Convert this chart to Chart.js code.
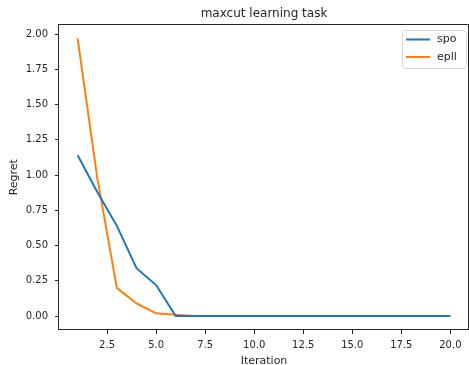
<!DOCTYPE html>
<html>
<head>
<meta charset="utf-8">
<script src="https://cdn.jsdelivr.net/npm/chart.js@4.4.0/dist/chart.umd.min.js"></script>
<style>
  html, body { margin: 0; padding: 0; background: #fff; }
  #wrap { width: 469px; height: 365px; }
</style>
</head>
<body>
<div id="wrap"><canvas id="myChart" width="469" height="365"></canvas></div>
<script>
// values
const iterations = [1, 2, 3, 4, 5, 6, 7, 8, 9, 10, 11, 12, 13, 14, 15, 16, 17, 18, 19, 20];
const spoRegret = [1.14, 0.88, 0.64, 0.34, 0.22, 0, 0, 0, 0, 0, 0, 0, 0, 0, 0, 0, 0, 0, 0, 0];
const epllRegret = [1.97, 0.98, 0.20, 0.09, 0.02, 0.01, 0, 0, 0, 0, 0, 0, 0, 0, 0, 0, 0, 0, 0, 0];
const xTicks = [2.5, 5.0, 7.5, 10.0, 12.5, 15.0, 17.5, 20.0];
const yTicks = [0, 0.25, 0.5, 0.75, 1.0, 1.25, 1.5, 1.75, 2.0];

const FONT = 'DejaVu Sans';
const INK = '#262626';

const toPoints = (xs, ys) => xs.map((x, i) => ({ x: x, y: ys[i] }));

// frame around the plot + matplotlib style legend in the upper right
const framePlugin = {
    id: 'frame',
    afterDraw(chart) {
        const ctx = chart.ctx;
        const a = chart.chartArea;
        ctx.save();
        ctx.strokeStyle = INK;
        ctx.lineWidth = 1;
        ctx.strokeRect(Math.round(a.left) - 0.5, Math.round(a.top) + 0.5,
            Math.round(a.right - a.left), Math.round(a.bottom - a.top) - 1);

        // legend box
        const bx = 402, by = 30, bw = 64, bh = 38;
        ctx.beginPath();
        ctx.roundRect(bx + 0.5, by + 0.5, bw, bh, 3);
        ctx.fillStyle = 'rgba(255,255,255,0.8)';
        ctx.fill();
        ctx.strokeStyle = '#d6d6d6';
        ctx.stroke();

        ctx.font = '11px ' + FONT;
        ctx.textBaseline = 'middle';
        chart.data.datasets.forEach((ds, i) => {
            const y = 39.5 + i * 17.5;
            ctx.beginPath();
            ctx.moveTo(406, y);
            ctx.lineTo(430, y);
            ctx.strokeStyle = ds.borderColor;
            ctx.lineWidth = 2;
            ctx.stroke();
            ctx.fillStyle = INK;
            ctx.fillText(ds.label, 437, y);
        });
        ctx.restore();
    }
};

new Chart(document.getElementById('myChart').getContext('2d'), {
    type: 'line',
    data: {
        datasets: [{
            label: 'spo',
            data: toPoints(iterations, spoRegret),
            borderColor: '#1f77b4',
            borderWidth: 2,
            pointRadius: 0,
            tension: 0
        },
        {
            label: 'epll',
            data: toPoints(iterations, epllRegret),
            borderColor: '#ff7f0e',
            borderWidth: 2,
            pointRadius: 0,
            tension: 0
        }]
    },
    options: {
        responsive: false,
        animation: false,
        layout: { padding: { left: 0, right: 0, top: 0, bottom: 0 } },
        plugins: {
            legend: { display: false },
            tooltip: { enabled: false },
            title: {
                display: true,
                text: 'maxcut learning task',
                fullSize: false,
                color: INK,
                font: { family: FONT, size: 12, weight: 'normal' },
                padding: { top: 7, bottom: 3 }
            }
        },
        scales: {
            x: {
                type: 'linear',
                min: 0.05,
                max: 20.95,
                afterBuildTicks: scale => { scale.ticks = xTicks.map(v => ({ value: v })); },
                afterFit: scale => { scale.height = 35; },
                ticks: {
                    color: INK,
                    font: { family: FONT, size: 10 },
                    padding: 5,
                    maxRotation: 0,
                    autoSkip: false,
                    callback: v => v.toFixed(1)
                },
                grid: { drawOnChartArea: false, drawTicks: true, tickLength: 4, color: INK },
                border: { display: false },
                title: {
                    display: true,
                    text: 'Iteration',
                    color: INK,
                    font: { family: FONT, size: 11 },
                    padding: { top: 0, bottom: -3 }
                }
            },
            y: {
                type: 'linear',
                min: -0.0985,
                max: 2.0685,
                afterBuildTicks: scale => { scale.ticks = yTicks.map(v => ({ value: v })); },
                afterFit: scale => { scale.width = 59; },
                ticks: {
                    color: INK,
                    font: { family: FONT, size: 10 },
                    padding: 7,
                    autoSkip: false,
                    callback: v => v.toFixed(2)
                },
                grid: { drawOnChartArea: false, drawTicks: true, tickLength: 4, color: INK },
                border: { display: false },
                title: {
                    display: true,
                    text: 'Regret',
                    color: INK,
                    font: { family: FONT, size: 11 },
                    padding: { top: 8, bottom: 0 }
                }
            }
        }
    },
    plugins: [framePlugin]
});
</script>
</body>
</html>
